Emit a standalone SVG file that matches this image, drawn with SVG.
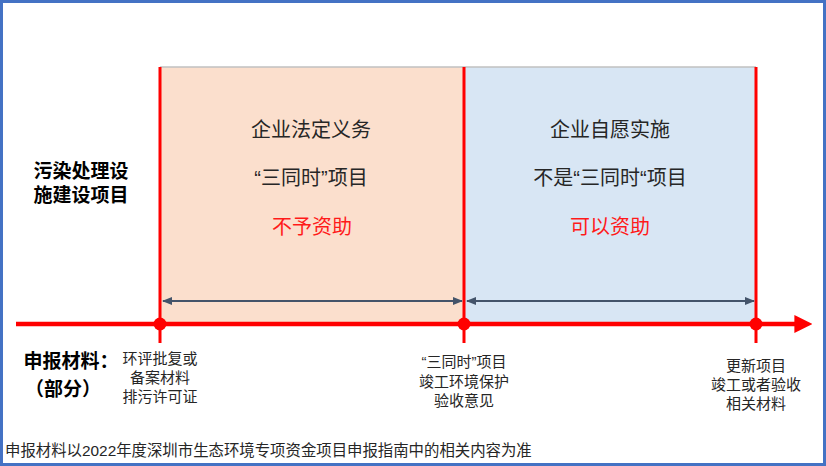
<svg xmlns="http://www.w3.org/2000/svg" width="826" height="466" viewBox="0 0 826 466">
<style>
text{font-family:"Liberation Sans","Noto Sans CJK SC",sans-serif;text-anchor:middle;fill:#262626}
.big{font-size:20px}
.lab{font-size:19px;font-weight:bold;fill:#000}
.sm{font-size:15px}
.red{fill:#FF1A1A}
.vl{stroke:#FF0000;stroke-width:3}
.dbl{stroke:#44546A;stroke-width:2;fill:none;marker-start:url(#ah);marker-end:url(#ah)}
</style>
<defs>
<marker id="ah" viewBox="0 0 10 10" refX="9" refY="5" markerWidth="5" markerHeight="5" orient="auto-start-reverse"><path d="M0,1 L10,5 L0,9 z" fill="#44546A"/></marker>
<marker id="axh" viewBox="0 0 10 10" refX="2" refY="5" markerWidth="4" markerHeight="4" orient="auto" markerUnits="strokeWidth"><path d="M0,0 L10,5 L0,10 z" fill="#FF0000"/></marker>
</defs>
<rect x="0" y="0" width="826" height="466" fill="#fff"/>
<rect x="1.5" y="1.5" width="823" height="463" fill="none" stroke="#4472C4" stroke-width="3"/>
<g id="zone-left">
<rect x="160" y="67" width="304" height="257" fill="#FBDFCD"/>
<text class="big" x="311" y="137">企业法定义务</text>
<text class="big" x="311" y="185">“三同时”项目</text>
<text class="big red" x="312" y="234">不予资助</text>
</g>
<g id="zone-right">
<rect x="464" y="67" width="292" height="257" fill="#D8E6F4"/>
<text class="big" x="610" y="137">企业自愿实施</text>
<text class="big" x="610" y="185">不是“三同时“项目</text>
<text class="big red" x="610" y="234">可以资助</text>
</g>
<line x1="160" y1="67" x2="756" y2="67" stroke="#C0C0C0" stroke-width="1.5"/>
<g id="row-label">
<text class="lab" x="81" y="178">污染处理设</text>
<text class="lab" x="81" y="202">施建设项目</text>
</g>
<g id="connectors">
<line class="vl" x1="160" y1="67" x2="160" y2="343"/>
<line class="vl" x1="464" y1="67" x2="464" y2="343"/>
<line class="vl" x1="756" y1="67" x2="756" y2="343"/>
<line x1="16" y1="324" x2="798" y2="324" stroke="#FF0000" stroke-width="4.5" marker-end="url(#axh)"/>
<circle cx="160" cy="324" r="6.5" fill="#FF0000"/>
<circle cx="464" cy="324" r="6.5" fill="#FF0000"/>
<circle cx="756" cy="324" r="6.5" fill="#FF0000"/>
<line class="dbl" x1="163" y1="301" x2="462" y2="301"/>
<line class="dbl" x1="467" y1="301" x2="754" y2="301"/>
</g>
<g id="materials-label">
<text class="lab" x="71" y="368">申报材料：</text>
<text class="lab" x="63" y="396">（部分）</text>
</g>
<g id="m1">
<text class="sm" x="160" y="364">环评批复或</text>
<text class="sm" x="160" y="383">备案材料</text>
<text class="sm" x="160" y="402">排污许可证</text>
</g>
<g id="m2">
<text class="sm" x="464" y="367">“三同时”项目</text>
<text class="sm" x="464" y="387">竣工环境保护</text>
<text class="sm" x="464" y="406">验收意见</text>
</g>
<g id="m3">
<text class="sm" x="756" y="371">更新项目</text>
<text class="sm" x="756" y="390">竣工或者验收</text>
<text class="sm" x="756" y="409">相关材料</text>
</g>
<text class="sm" x="5" y="456" style="text-anchor:start;font-size:15.4px">申报材料以2022年度深圳市生态环境专项资金项目申报指南中的相关内容为准</text>
</svg>
